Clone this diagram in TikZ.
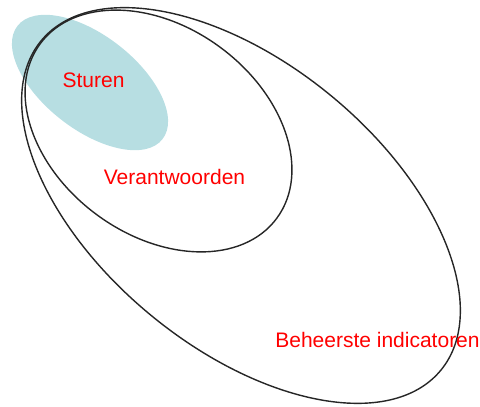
\documentclass[tikz,border=0pt]{standalone}
\usepackage{fontspec}
\setmainfont{Liberation Sans}
\definecolor{sturenfill}{RGB}{183,222,226}
\tikzset{
    rand/.style={draw=black!85, line width=1.4pt},
    label/.style={text=red, font=\fontsize{21}{25}\selectfont, inner sep=0pt}
}
\begin{document}
\begin{tikzpicture}[x=1pt,y=-1pt]
    \useasboundingbox (0,0) rectangle (480,407);

    % centres of the sets
    \coordinate (c_st) at (90,82.5);
    \coordinate (c_ve) at (158.5,131);
    \coordinate (c_be) at (241,205.5);

    % sets
    \fill[sturenfill, rotate around={-38:(c_st)}] (c_st) ellipse [x radius=92, y radius=47];
    \draw[rand, rotate around={-36.4:(c_ve)}] (c_ve) ellipse [x radius=147, y radius=104];
    \draw[rand, rotate around={-39.5:(c_be)}] (c_be) ellipse [x radius=259, y radius=142];

    % labels
    \node[label] (sturen) at (93.5,80) {Sturen};
    \node[label] (verantw) at (174.5,177) {Verantwoorden};
    \node[label] (beheerst) at (377.5,340) {Beheerste indicatoren};
\end{tikzpicture}
\end{document}
